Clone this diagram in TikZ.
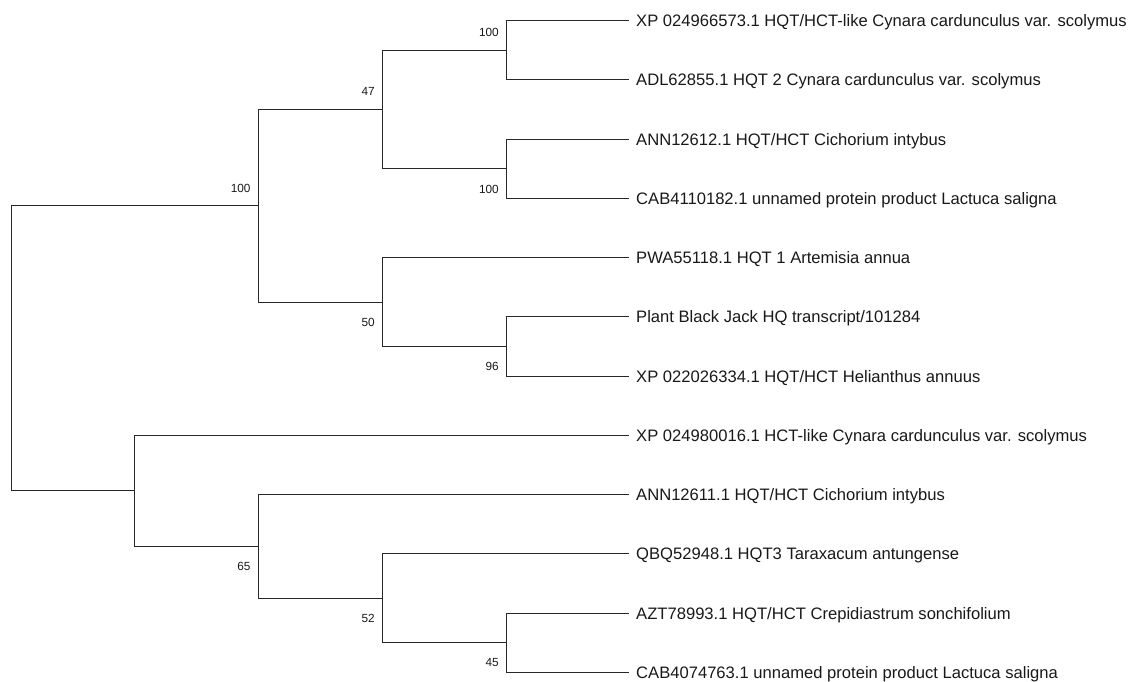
\documentclass[tikz,border=0pt]{standalone}
\usepackage{fontspec}
\setmainfont{Liberation Sans}
\usepackage{tikz}
\definecolor{treeline}{RGB}{40,40,40}
\tikzset{
  branch/.style={draw=treeline,line width=1pt},
  leaf/.style={anchor=west,inner xsep=7pt,inner ysep=0pt,text height=11.8pt,text depth=0pt,
    font=\fontsize{16.6}{18}\selectfont,text=black!90},
  boot/.style={anchor=east,inner sep=0pt,text height=8.4pt,text depth=0pt,xshift=-7.5pt,
    font=\fontsize{11.8}{13}\selectfont,text=black!90},
  bootup/.style={boot,yshift=18pt},
  bootdn/.style={boot,yshift=-20pt}
}

\begin{document}
\begin{tikzpicture}[x=1pt,y=-1pt]
  \useasboundingbox (0,0) rectangle (1129,681);
  % leaves
  \foreach \i/\txt in {0/{XP 024966573.1 HQT/HCT-like Cynara cardunculus var. scolymus},
      1/{ADL62855.1 HQT 2 Cynara cardunculus var. scolymus},
      2/{ANN12612.1 HQT/HCT Cichorium intybus},
      3/{CAB4110182.1 unnamed protein product Lactuca saligna},
      4/{PWA55118.1 HQT 1 Artemisia annua},
      5/{Plant Black Jack HQ transcript/101284},
      6/{XP 022026334.1 HQT/HCT Helianthus annuus},
      7/{XP 024980016.1 HCT-like Cynara cardunculus var. scolymus},
      8/{ANN12611.1 HQT/HCT Cichorium intybus},
      9/{QBQ52948.1 HQT3 Taraxacum antungense},
      10/{AZT78993.1 HQT/HCT Crepidiastrum sonchifolium},
      11/{CAB4074763.1 unnamed protein product Lactuca saligna}}{%
    \node[leaf] (l\i) at (629,{20.7+59.24*\i}) {\txt};
  }
  % inner nodes
  \coordinate (a) at (506.4,50.32);
  \coordinate (b) at (506.4,168.8);
  \coordinate (c) at (382.5,109.56);
  \coordinate (d) at (506.4,346.52);
  \coordinate (e) at (382.5,302.09);
  \coordinate (f) at (258.2,205.83);
  \coordinate (g) at (506.4,642.72);
  \coordinate (h) at (382.5,598.29);
  \coordinate (k) at (258.2,546.46);
  \coordinate (m) at (134.6,490.92);
  \coordinate (root) at (11.4,348.38);
  % branches
  \draw[branch] (a) |- (l0.west) (a) |- (l1.west);
  \draw[branch] (b) |- (l2.west) (b) |- (l3.west);
  \draw[branch] (c) |- (a) (c) |- (b);
  \draw[branch] (d) |- (l5.west) (d) |- (l6.west);
  \draw[branch] (e) |- (l4.west) (e) |- (d);
  \draw[branch] (f) |- (c) (f) |- (e);
  \draw[branch] (g) |- (l10.west) (g) |- (l11.west);
  \draw[branch] (h) |- (l9.west) (h) |- (g);
  \draw[branch] (k) |- (l8.west) (k) |- (h);
  \draw[branch] (m) |- (l7.west) (m) |- (k);
  \draw[branch] (root) |- (f) (root) |- (m);
  % bootstrap values
  \node[bootup] (ba) at (a) {100};
  \node[bootdn] (bb) at (b) {100};
  \node[bootup] (bc) at (c) {47};
  \node[bootdn] (bd) at (d) {96};
  \node[bootdn] (be) at (e) {50};
  \node[bootup] (bf) at (f) {100};
  \node[bootdn] (bg) at (g) {45};
  \node[bootdn] (bh) at (h) {52};
  \node[bootdn] (bk) at (k) {65};
\end{tikzpicture}
\end{document}
